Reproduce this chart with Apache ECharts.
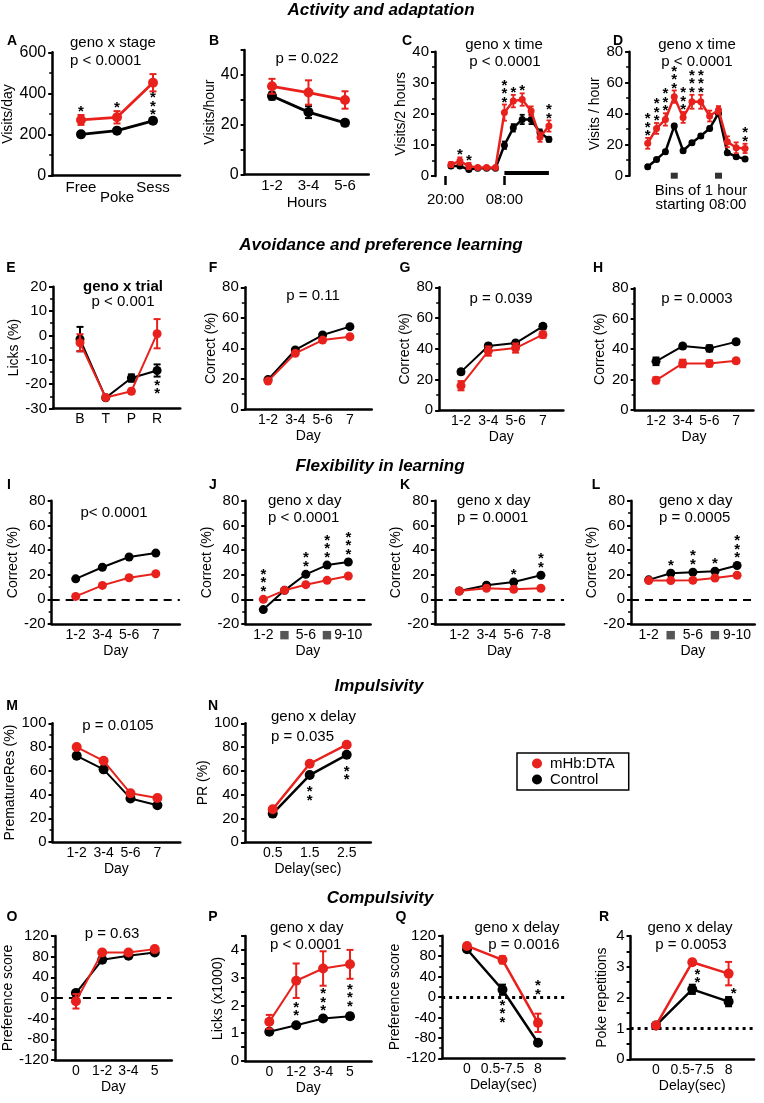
<!DOCTYPE html>
<html><head><meta charset="utf-8">
<script src="https://cdn.jsdelivr.net/npm/echarts@6/dist/echarts.min.js"></script>
<style>html,body{margin:0;padding:0;background:#fff}#c{width:764px;height:1103px}</style>
</head><body><div id="c"></div>
<script>
// ================= DATA =================
const aCats = ['Free', 'Poke', 'Sess'];
const aMhb = [271, 284, 452];
const aMhbErr = [24, 30, 42];
const aCtrl = [201, 219, 267];
const aCtrlErr = [10, 8, 12];
const aStars = [1, 1, 3];

const bCats = ['1-2', '3-4', '5-6'];
const bMhb = [35.4, 32.9, 29.9];
const bMhbErr = [3, 4.9, 3.5];
const bCtrl = [31.5, 25, 20.7];
const bCtrlErr = [1.5, 2.4, 1];

const cTickLabels = ['20:00', '08:00'];
const cMhb = [3.7, 4.8, 3.2, 2.7, 2.7, 2.7, 20.4, 24.1, 24.6, 20.9, 12.5, 16.1];
const cMhbErr = [0.8, 1.2, 1, 0.5, 0.5, 0.5, 2.6, 2, 2, 1.5, 1.5, 1.8];
const cCtrl = [3.2, 3.2, 2.1, 2.5, 2.5, 2.5, 9.9, 15.5, 18.2, 18.2, 14, 11.8];
const cCtrlErr = [0.5, 0.5, 0.5, 0.3, 0.3, 0.3, 1.2, 1.2, 1.5, 1.5, 1, 0.8];
const cStars = [0, 1, 1, 0, 0, 0, 3, 1, 1, 0, 0, 2];
const cLightBar = [[6, 1], [11, 1]];

const dMhb = [20.9, 30.5, 36.3, 51, 37.6, 47.7, 47.7, 38.5, 42.4, 21.9, 18, 17.6];
const dMhbErr = [3.5, 3.5, 4, 4, 3.5, 4.5, 4.5, 3.5, 2.5, 3.5, 3.5, 3];
const dCtrl = [5.8, 10.5, 15.5, 32, 16.1, 21.3, 25.6, 30.5, 40.2, 14.8, 12.3, 10.8];
const dCtrlErr = [1, 1, 1.2, 1.5, 1, 1, 1.2, 1.2, 1.5, 1.2, 1, 0.8];
const dStars = [3, 3, 3, 3, 3, 3, 3, 0, 0, 0, 0, 2];
const dMarkers = [3, 8];

const eCats = ['B', 'T', 'P', 'R'];
const eMhb = [-3, -25.5, -22.9, 0.7];
const eMhbErr = [3.5, 0.5, 1, 6];
const eCtrl = [-1.5, -25.6, -17.5, -14.4];
const eCtrlErr = [5, 0.5, 1.5, 2.5];
const eStars = [0, 0, 0, 2];

const dayCats4 = ['1-2', '3-4', '5-6', '7'];
const fMhb = [18.5, 36.7, 45.4, 47.6];
const fCtrl = [19.5, 38.9, 48.7, 54.2];
const gMhb = [16, 38.5, 40.5, 49.2];
const gMhbErr = [3, 3, 3, 2];
const gCtrl = [25, 41.8, 43.7, 54.6];
const gCtrlErr = [1.5, 1.5, 1.5, 1.5];
const hMhb = [19.5, 30.6, 30.6, 32.3];
const hMhbErr = [2, 2.5, 2, 1.5];
const hCtrl = [32, 42, 40.5, 44.8];
const hCtrlErr = [2.5, 1.5, 2, 1.5];

const iMhb = [2.4, 11.3, 17.5, 20.8];
const iCtrl = [16.6, 26, 34.3, 37.5];
const jCats = ['1-2', '■', '5-6', '■', '9-10'];
const jMhb = [0, 7.3, 11.9, 15.4, 18.9];
const jCtrl = [-8.3, 7.3, 20.3, 27.8, 30.3];
const jStars = [3, 0, 2, 3, 3];
const kCats = ['1-2', '3-4', '5-6', '7-8'];
const kMhb = [6.8, 9, 8.1, 9];
const kCtrl = [6.8, 11.4, 14.1, 19.5];
const kStars = [0, 0, 1, 2];
const lCats = ['1-2', '■', '5-6', '■', '9-10'];
const lMhb = [15.2, 15.2, 15.4, 17.3, 19.5];
const lCtrl = [15.8, 21.2, 22, 22.8, 27.4];
const lStars = [0, 1, 2, 1, 3];

const mMhb = [80, 68.4, 41, 37];
const mCtrl = [72.6, 61.2, 36.7, 31];
const nCats = ['0.5', '1.5', '2.5'];
const nMhb = [27.7, 66, 82];
const nCtrl = [24.1, 56.5, 73.5];
const nStars = [0, 2, 2];

const oCats = ['0', '1-2', '3-4', '5'];
const oMhb = [-6.4, 88, 88, 94.6];
const oMhbErr = [14, 3, 3, 3];
const oCtrl = [9.6, 74, 81.7, 88];
const oCtrlErr = [5, 3, 2, 2];
const pCats = ['0', '1-2', '3-4', '5'];
const pMhb = [1.41, 2.89, 3.33, 3.48];
const pMhbErr = [0.25, 0.62, 0.62, 0.52];
const pCtrl = [1.05, 1.29, 1.53, 1.61];
const pCtrlErr = [0.05, 0.06, 0.08, 0.1];
const pStars = [0, 2, 3, 3];
const qCats = ['0', '0.5-7.5', '8'];
const qMhb = [100, 72.7, -50.6];
const qMhbErr = [3, 7, 18];
const qCtrl = [93.5, 14.2, -89.6];
const qCtrlErr = [3, 10, 3];
const qStars = [0, 3, 2];
const rCats = ['0', '0.5-7.5', '8'];
const rMhb = [1.1, 3.15, 2.78];
const rMhbErr = [0.05, 0.08, 0.38];
const rCtrl = [1.1, 2.27, 1.87];
const rCtrlErr = [0.05, 0.15, 0.15];
const rStars = [0, 2, 1];

// ================= STYLE / BUILDERS =================
const FONT = '"Liberation Sans", Arial, Helvetica, sans-serif';
const RED = '#e8211c', BLACK = '#000000';
const AXW = 2.5;
const STAR_DY = 3;

const option = {
  animation: false, backgroundColor: '#fff',
  grid: [], xAxis: [], yAxis: [], series: [],
  graphic: { elements: [] },
  legend: {
    data: ['mHb:DTA', 'Control'], orient: 'vertical', left: 517, top: 753,
    itemWidth: 10, itemHeight: 10, itemGap: 1, icon: 'circle', selectedMode: false,
    borderColor: '#000', borderWidth: 1.5, borderRadius: 0, padding: [3, 14, 3, 15],
    textStyle: { color: '#000', fontSize: 15, fontFamily: FONT, padding: [0, 0, 0, 3] }
  }
};

function txt(text, x, y, o) {
  o = o || {};
  const align = o.a || 'left';
  option.graphic.elements.push({
    type: 'text', x: x, y: y, silent: true,
    style: { text: text, fill: '#000', font: (o.st || '') + ' ' + (o.w || 'normal') + ' ' + (o.s || 15) + 'px ' + FONT,
      textAlign: align, textVerticalAlign: 'middle', align: align, verticalAlign: 'middle' }
  });
}

function errRender(color, cap, lw) {
  return function (params, api) {
    const x = api.value(0);
    const a = api.coord([x, api.value(1)]), b = api.coord([x, api.value(2)]);
    const st = { stroke: color, lineWidth: lw };
    return { type: 'group', children: [
      { type: 'line', shape: { x1: a[0], y1: a[1], x2: b[0], y2: b[1] }, style: st },
      { type: 'line', shape: { x1: a[0] - cap, y1: a[1], x2: a[0] + cap, y2: a[1] }, style: st },
      { type: 'line', shape: { x1: b[0] - cap, y1: b[1], x2: b[0] + cap, y2: b[1] }, style: st }
    ] };
  };
}

function starRender(p) {
  return function (params, api) {
    const i = api.value(0), n = api.value(1);
    const mode = Array.isArray(p.starMode) ? p.starMode[i] : (p.starMode || 'above');
    const r = (p.sym || 9) / 2;
    const ext = function (vals, errs) {
      const v = vals[i], e = errs ? errs[i] : 0;
      const cT = api.coord([i, v + e])[1], cB = api.coord([i, v - e])[1], c = api.coord([i, v])[1];
      return [Math.min(cT, c - r), Math.max(cB, c + r)];
    };
    const R = ext(p.red, p.redErr), B = ext(p.black, p.blackErr);
    const x = api.coord([i, 0])[0] + (p.starDx || 0);
    const pitch = p.starPitch || 8.5;
    const gap = p.starGap != null ? p.starGap : 3;
    const H = (n - 1) * pitch;
    let first;
    if (mode === 'above') first = Math.min(R[0], B[0]) - gap - 3 - H;
    else if (mode === 'below') first = Math.max(R[1], B[1]) + gap + 3;
    else {
      const up = p.red[i] >= p.black[i] ? R : B, lo = up === R ? B : R;
      first = (up[1] + lo[0]) / 2 - H / 2;
    }
    if (p.starExtra && p.starExtra[i]) first += p.starExtra[i];
    const ch = [];
    for (let j = 0; j < n; j++) {
      ch.push({ type: 'text', x: x, y: first + j * pitch + STAR_DY,
        style: { text: '*', fill: '#000', font: 'bold 15px ' + FONT, textAlign: 'center', textVerticalAlign: 'middle', align: 'center', verticalAlign: 'middle' } });
    }
    return { type: 'group', children: ch };
  };
}

function addPanel(p) {
  const kg = option.grid.length;
  const kx = option.xAxis.length;
  const ky = option.yAxis.length;
  const left = p.p0 + p.xmin * p.sp;
  const width = p.sp * (p.xmax - p.xmin);
  option.grid.push({ left: left, top: p.top, width: width, height: p.bottom - p.top });
  const cats = p.cats;
  const xfs = p.xfs || 14;
  option.xAxis.push({
    type: 'value', gridIndex: kg, min: p.xmin, max: p.xmax, interval: 0.05, show: p.xShow !== false,
    axisLine: { show: true, onZero: false, lineStyle: { color: '#000', width: AXW } },
    axisTick: { show: false }, splitLine: { show: false }, minorTick: { show: false },
    axisLabel: {
      show: !!cats, color: '#000', fontFamily: FONT, fontSize: xfs,
      margin: p.xMargin != null ? p.xMargin : 3, lineHeight: p.xLH || (xfs + 2),
      rich: { sq: { color: '#555', fontSize: 11, fontFamily: 'DejaVu Sans' } },
      formatter: function (v) {
        const i = Math.round(v);
        if (Math.abs(v - i) > 0.01 || !cats || cats[i] == null) return '';
        const c = cats[i];
        if (c === '■') return '{sq|■}';
        return p.catFmt ? p.catFmt(c, i) : c;
      }
    },
    name: p.xName || '', nameLocation: 'middle', nameGap: p.xNameGap || 16,
    nameTextStyle: { color: '#000', fontFamily: FONT, fontSize: p.xnfs || 14 }
  });
  option.yAxis.push({
    type: 'value', gridIndex: kg, min: p.ymin, max: p.ymax, interval: p.yint,
    axisLine: { show: true, onZero: false, lineStyle: { color: '#000', width: AXW } },
    axisTick: { show: true, length: 4, lineStyle: { color: '#000', width: 2 } },
    minorTick: { show: !!p.minor, splitNumber: p.minor || 5, length: 3, lineStyle: { color: '#000', width: 1.5 } },
    splitLine: { show: false }, minorSplitLine: { show: false },
    axisLabel: { color: '#000', fontFamily: FONT, fontSize: p.yfs || 15, margin: 6, formatter: p.yFmt },
    name: p.yName || '', nameLocation: 'middle', nameGap: p.yNameGap || 25,
    nameTextStyle: { color: '#000', fontFamily: FONT, fontSize: 14 }
  });
  const groups = [
    { name: 'Control', vals: p.black, err: p.blackErr, color: BLACK },
    { name: 'mHb:DTA', vals: p.red, err: p.redErr, color: RED }
  ];
  groups.forEach(function (g, gi) {
    if (g.err) {
      option.series.push({
        type: 'custom', name: g.name + ' SEM', xAxisIndex: kx, yAxisIndex: ky, clip: false, silent: true, z: 2 + gi * 2,
        data: g.err.map(function (e, i) { return [i, g.vals[i] - e, g.vals[i] + e]; }),
        encode: { x: 0, y: [1, 2] }, renderItem: errRender(g.color, p.cap || 3.5, p.elw || 2)
      });
    }
    const s = {
      type: 'line', name: g.name, xAxisIndex: kx, yAxisIndex: ky,
      data: g.vals.map(function (v, i) { return [i, v]; }),
      symbol: 'circle', symbolSize: p.sym || 9, showSymbol: true, showAllSymbol: true,
      lineStyle: { color: g.color, width: p.lw || 2 }, itemStyle: { color: g.color }, z: 3 + gi * 2, silent: true
    };
    if (gi === 0 && p.hline) {
      s.markLine = { silent: true, symbol: 'none', animation: false, label: { show: false },
        lineStyle: { color: '#000', width: p.hline.w, type: p.hline.type }, data: [{ yAxis: p.hline.v }] };
    }
    option.series.push(s);
  });
  if (p.stars) {
    const data = [];
    p.stars.forEach(function (n, i) { if (n > 0) data.push([i, n]); });
    option.series.push({ type: 'custom', name: 'sig', xAxisIndex: kx, yAxisIndex: ky, clip: false, silent: true, z: 10,
      data: data, encode: { x: 0, y: 1 }, renderItem: starRender(p) });
  }
  return { g: kg, x: kx, y: ky };
}

const intFmt = function (v) { return Math.abs(v - Math.round(v)) < 1e-6 ? String(Math.round(v)) : ''; };
const dashed = { v: 0, type: [8, 6], w: 2 };

// ---- Row 1 ----
addPanel({ cats: aCats, red: aMhb, redErr: aMhbErr, black: aCtrl, blackErr: aCtrlErr, stars: aStars,
  starMode: ['above', 'above', 'between'],
  p0: 81, sp: 36, xmin: -0.8, xmax: 2.75, top: 52.3, bottom: 175.7, ymin: 0, ymax: 600, yint: 200, minor: 2,
  yName: 'Visits/day', yNameGap: 28, lw: 2.8, sym: 10, xfs: 15, yfs: 16, xMargin: 7, xLH: 10,
  catFmt: function (c, i) { return i === 1 ? '\n' + c : c; } });
addPanel({ cats: bCats, red: bMhb, redErr: bMhbErr, black: bCtrl, blackErr: bCtrlErr,
  p0: 272, sp: 36.5, xmin: -0.75, xmax: 2.65, top: 50, bottom: 174.3, ymin: 0, ymax: 50, yint: 10,
  yFmt: function (v) { return v % 20 === 0 ? String(v) : ''; },
  yName: 'Visits/hour', yNameGap: 24, xName: 'Hours', xNameGap: 17, xnfs: 15, lw: 2.8, sym: 10, xfs: 15, yfs: 16 });
const kC = addPanel({ red: cMhb, redErr: cMhbErr, black: cCtrl, blackErr: cCtrlErr, stars: cStars,
  p0: 451, sp: 8.9, xmin: -1.8, xmax: 12, top: 51.7, bottom: 176, ymin: 0, ymax: 40, yint: 10, minor: 2,
  yName: 'Visits/2 hours', yNameGap: 21, lw: 2.5, sym: 7, xShow: false, cap: 2.5, elw: 1.8, starGap: 2 });
const kD = addPanel({ red: dMhb, redErr: dMhbErr, black: dCtrl, blackErr: dCtrlErr, stars: dStars,
  p0: 647.7, sp: 8.85, xmin: -2.1, xmax: 12.5, top: 51.7, bottom: 175.7, ymin: 0, ymax: 80, yint: 20, minor: 2,
  yName: 'Visits / hour', yNameGap: 24, lw: 2.5, sym: 7, xShow: false, cap: 2.5, elw: 1.8, starGap: 2 });

// C: clock-time tick axis (20:00 / 08:00) and light-phase bar; D: bin markers
(function () {
  const slots = [];
  for (let j = 0; j < 24; j++) slots.push(j === 2 ? cTickLabels[0] : (j === 13 ? cTickLabels[1] : 's' + j));
  const show = function (idx) { return idx === 2 || idx === 13; };
  option.xAxis.push({ type: 'category', gridIndex: kC.g, boundaryGap: false, data: slots, position: 'bottom', offset: 5,
    axisLine: { show: false }, splitLine: { show: false },
    axisTick: { show: true, length: 9, interval: show, lineStyle: { color: '#000', width: 2.5 } },
    axisLabel: { show: true, interval: show, color: '#000', fontFamily: FONT, fontSize: 15, margin: 11 } });
  option.series.push({ type: 'line', name: 'light', xAxisIndex: kC.x, yAxisIndex: kC.y, data: cLightBar, symbol: 'none',
    lineStyle: { color: '#000', width: 4 }, silent: true, z: 6 });
  option.series.push({ type: 'scatter', name: 'marker', xAxisIndex: kD.x, yAxisIndex: kD.y, symbol: 'rect', symbolSize: [7, 6],
    itemStyle: { color: '#000' }, data: dMarkers.map(function (i) { return [i, 0]; }), clip: false, silent: true, z: 6 });
})();

// ---- Row 2 ----
addPanel({ cats: eCats, red: eMhb, redErr: eMhbErr, black: eCtrl, blackErr: eCtrlErr, stars: eStars, starMode: 'below',
  p0: 80, sp: 25.7, xmin: -1.05, xmax: 3.9, top: 286.7, bottom: 408.5, ymin: -30, ymax: 20, yint: 10, minor: 2,
  yName: 'Licks (%)', yNameGap: 31, lw: 2, sym: 9 });
addPanel({ cats: dayCats4, red: fMhb, black: fCtrl,
  p0: 268, sp: 27.3, xmin: -0.85, xmax: 3.8, top: 287.3, bottom: 409.3, ymin: 0, ymax: 80, yint: 20, minor: 2,
  yName: 'Correct (%)', yNameGap: 23, xName: 'Day', lw: 2, sym: 9 });
addPanel({ cats: dayCats4, red: gMhb, redErr: gMhbErr, black: gCtrl, blackErr: gCtrlErr,
  p0: 461, sp: 27.3, xmin: -0.8, xmax: 3.75, top: 287.3, bottom: 410.3, ymin: 0, ymax: 80, yint: 20, minor: 2,
  yName: 'Correct (%)', yNameGap: 27, xName: 'Day', lw: 2, sym: 9 });
addPanel({ cats: dayCats4, red: hMhb, redErr: hMhbErr, black: hCtrl, blackErr: hCtrlErr,
  p0: 656, sp: 26.7, xmin: -0.8, xmax: 3.65, top: 288.3, bottom: 410, ymin: 0, ymax: 80, yint: 20, minor: 2,
  yName: 'Correct (%)', yNameGap: 27, xName: 'Day', lw: 2, sym: 9 });

// ---- Row 3 ----
addPanel({ cats: dayCats4, red: iMhb, black: iCtrl, hline: dashed,
  p0: 75.7, sp: 26.7, xmin: -0.9, xmax: 3.9, top: 500.7, bottom: 624, ymin: -20, ymax: 80, yint: 20, minor: 2,
  yName: 'Correct (%)', yNameGap: 30, xName: 'Day', lw: 2, sym: 9 });
addPanel({ cats: jCats, red: jMhb, black: jCtrl, stars: jStars, hline: dashed,
  p0: 263.3, sp: 21.25, xmin: -0.85, xmax: 5.05, top: 500.7, bottom: 624, ymin: -20, ymax: 80, yint: 20, minor: 2,
  yName: 'Correct (%)', yNameGap: 28, xName: 'Day', lw: 2, sym: 9 });
addPanel({ cats: kCats, red: kMhb, black: kCtrl, stars: kStars, hline: dashed,
  p0: 459.3, sp: 27.2, xmin: -0.9, xmax: 3.85, top: 500.7, bottom: 624, ymin: -20, ymax: 80, yint: 20, minor: 2,
  yName: 'Correct (%)', yNameGap: 30, xName: 'Day', lw: 2, sym: 9 });
addPanel({ cats: lCats, red: lMhb, black: lCtrl, stars: lStars, hline: dashed,
  p0: 648.7, sp: 22.1, xmin: -0.8, xmax: 4.8, top: 500.7, bottom: 624, ymin: -20, ymax: 80, yint: 20, minor: 2,
  yName: 'Correct (%)', yNameGap: 27, xName: 'Day', lw: 2, sym: 9 });

// ---- Row 4 ----
addPanel({ cats: dayCats4, red: mMhb, black: mCtrl,
  p0: 76.7, sp: 26.9, xmin: -0.9, xmax: 3.85, top: 723.3, bottom: 842, ymin: 0, ymax: 100, yint: 20, minor: 2,
  yName: 'PrematureRes (%)', yNameGap: 35, xName: 'Day', xNameGap: 17, lw: 2, sym: 10 });
addPanel({ cats: nCats, red: nMhb, black: nCtrl, stars: nStars, starMode: 'below', starGap: 6,
  p0: 272.7, sp: 37, xmin: -0.75, xmax: 2.65, top: 723.3, bottom: 842.3, ymin: 0, ymax: 100, yint: 20, minor: 2,
  yName: 'PR (%)', yNameGap: 25, xName: 'Delay(sec)', xNameGap: 17, lw: 2.5, sym: 10 });

// ---- Row 5 ----
addPanel({ cats: oCats, red: oMhb, redErr: oMhbErr, black: oCtrl, blackErr: oCtrlErr, hline: dashed,
  p0: 74, sp: 26.8, xmin: -0.8, xmax: 3.65, top: 936, bottom: 1060, ymin: -120, ymax: 120, yint: 40, minor: 2,
  yName: 'Preference score', yNameGap: 36, xName: 'Day', xNameGap: 19, lw: 2, sym: 10 });
addPanel({ cats: pCats, red: pMhb, redErr: pMhbErr, black: pCtrl, blackErr: pCtrlErr, stars: pStars, starMode: 'between',
  p0: 269.3, sp: 26.9, xmin: -0.9, xmax: 3.8, top: 936, bottom: 1061, ymin: 0, ymax: 4.5, yint: 0.5, yFmt: intFmt,
  yName: 'Licks (x1000)', yNameGap: 20, xName: 'Day', xNameGap: 18, lw: 2, sym: 10 });
addPanel({ cats: qCats, red: qMhb, redErr: qMhbErr, black: qCtrl, blackErr: qCtrlErr, stars: qStars,
  starMode: ['above', 'below', 'above'], starExtra: { 2: -14 }, starGap: 5, hline: { v: 0, type: [3, 4], w: 3 },
  p0: 467, sp: 35.5, xmin: -0.7, xmax: 2.75, top: 935.7, bottom: 1058.3, ymin: -120, ymax: 120, yint: 40, minor: 2,
  yName: 'Preference score', yNameGap: 32, xName: 'Delay(sec)', xNameGap: 16, lw: 2.5, sym: 10 });
addPanel({ cats: rCats, red: rMhb, redErr: rMhbErr, black: rCtrl, blackErr: rCtrlErr, stars: rStars, starMode: 'between', starDx: 5,
  hline: { v: 1, type: [3, 4], w: 3 },
  p0: 656, sp: 36.3, xmin: -0.7, xmax: 2.7, top: 936, bottom: 1059.3, ymin: 0, ymax: 4, yint: 0.5, yFmt: intFmt,
  yName: 'Poke repetitions', yNameGap: 21, xName: 'Delay(sec)', xNameGap: 16, lw: 2.5, sym: 10 });

// ================= TEXT =================
const TT = { st: 'italic', w: 'bold', s: 17, a: 'center' };
txt('Activity and adaptation', 381, 10, TT);
txt('Avoidance and preference learning', 381, 245, TT);
txt('Flexibility in learning', 380, 466, TT);
txt('Impulsivity', 379, 686, TT);
txt('Compulsivity', 380, 898, TT);

const PL = { w: 'bold', s: 14, a: 'center' };
[['A', 12, 41], ['B', 214, 41], ['C', 407, 41], ['D', 618, 41],
 ['E', 11, 268], ['F', 213, 268], ['G', 405, 268], ['H', 598, 268],
 ['I', 9, 485], ['J', 213, 485], ['K', 405, 485], ['L', 596, 485],
 ['M', 12, 706], ['N', 213, 706],
 ['O', 12, 917], ['P', 213, 917], ['Q', 401, 917], ['R', 604, 917]].forEach(function (a) { txt(a[0], a[1], a[2], PL); });

txt('geno x stage', 70, 43); txt('p < 0.0001', 70, 61);
txt('p = 0.022', 307, 59, { a: 'center' });
txt('geno x time', 504, 45, { a: 'center' }); txt('p < 0.0001', 505, 62, { a: 'center' });
txt('geno x time', 697, 45, { a: 'center' }); txt('p < 0.0001', 697, 62, { a: 'center' });
txt('Bins of 1 hour', 701, 191, { a: 'center' }); txt('starting 08:00', 701, 205, { a: 'center' });
txt('geno x trial', 123, 287, { a: 'center', w: 'bold' }); txt('p < 0.001', 123, 302, { a: 'center' });
txt('p = 0.11', 313, 296, { a: 'center' });
txt('p = 0.039', 501, 299, { a: 'center' });
txt('p = 0.0003', 697, 299, { a: 'center' });
txt('p< 0.0001', 114, 513, { a: 'center' });
txt('geno x day', 268, 501); txt('p < 0.0001', 268, 518);
txt('geno x day', 457, 501); txt('p = 0.0001', 457, 518);
txt('geno x day', 659, 501); txt('p = 0.0005', 659, 518);
txt('p = 0.0105', 118, 726, { a: 'center' });
txt('geno x delay', 271, 717); txt('p = 0.035', 271, 737);
txt('p = 0.63', 112, 934, { a: 'center' });
txt('geno x day', 270, 928); txt('p < 0.0001', 270, 945);
txt('geno x delay', 517, 928, { a: 'center' }); txt('p = 0.0016', 524, 945, { a: 'center' });
txt('geno x delay', 690, 928, { a: 'center' }); txt('p = 0.0053', 691, 945, { a: 'center' });

const chart = echarts.init(document.getElementById('c'), null, { renderer: 'canvas' });
chart.setOption(option);
</script></body></html>
